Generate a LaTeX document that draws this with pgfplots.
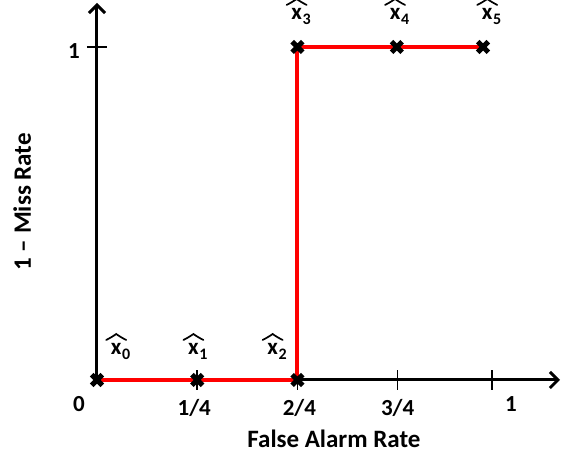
\documentclass[border=0pt]{standalone}
\usepackage{fontspec}
\setmainfont{Carlito}
\usepackage{pgfplots}
\pgfplotsset{compat=1.18}
\usetikzlibrary{arrows.meta}
\newcommand\xh[1]{\tikz[baseline=0pt]{\path[use as bounding box] (-11pt,0pt) rectangle (6pt,12pt);
  \node[inner sep=0pt, anchor=base, font=\fontsize{23pt}{26pt}\selectfont\bfseries] at (0,0) {x};
  \draw[line width=1.7pt, line join=miter, line cap=round] (-10pt,15pt) .. controls (-6pt,17pt) and (-2pt,19.5pt) .. (0pt,21pt) .. controls (2pt,19.5pt) and (6pt,17pt) .. (10pt,15pt);}\raisebox{-5pt}{\fontsize{16pt}{16pt}\selectfont\bfseries #1}}
\tikzset{lab/.style={font=\fontsize{23pt}{26pt}\selectfont\bfseries, inner sep=0pt},
  big/.style={font=\fontsize{25pt}{28pt}\selectfont\bfseries, inner sep=0pt}}
\begin{document}
\begin{tikzpicture}
\begin{axis}[
 scale only axis, width=463pt, height=377pt,
 xmin=0, xmax=1.155, ymin=0, ymax=1.132,
 axis lines=left,
 axis line style={line width=3pt, -{Straight Barb[length=8pt,width=16pt]}},
 every outer x axis line/.append style={line width=3pt, -{Straight Barb[length=8pt,width=16pt]}},
 every outer y axis line/.append style={line width=3pt, -{Straight Barb[length=8pt,width=16pt]}},
 every inner x axis line/.append style={line width=3pt, -{Straight Barb[length=8pt,width=16pt]}},
 every inner y axis line/.append style={line width=3pt, -{Straight Barb[length=8pt,width=16pt]}},
 xtick={0.25,0.5,0.75,0.985}, xticklabels={},
 ytick={1}, yticklabels={},
 major tick length=20pt, tick align=center,
 tick style={line width=1.5pt, black},
 clip=false,
]
\addplot[red, line width=4pt, no marks] coordinates {(0,0) (0.5,0) (0.5,1) (0.963,1)};
\addplot[only marks, mark=x, mark size=7.5pt, mark options={line width=5pt, black}] coordinates {(0,0) (0.25,0) (0.5,0) (0.5,1) (0.748,1) (0.963,1)};
\coordinate (O) at (axis cs:0,0);
% tick labels
\node[lab, anchor=base] at (axis cs:0,0) [xshift=-18pt, yshift=-32pt] {0};
\node[lab, anchor=base] at (axis cs:0.25,0) [xshift=-3pt, yshift=-36pt] {1/4};
\node[lab, anchor=base] at (axis cs:0.5,0) [xshift=2pt, yshift=-36pt] {2/4};
\node[lab, anchor=base] at (axis cs:0.75,0) [xshift=0pt, yshift=-36pt] {3/4};
\node[lab, anchor=base] at (axis cs:0.985,0) [xshift=19pt, yshift=-32pt] {1};
\node[lab, anchor=base] at (axis cs:0,1) [xshift=-23pt, yshift=-12pt] {1};
% axis labels
\node[big, anchor=base] at (axis cs:0.591,0) [yshift=-68pt] {False Alarm Rate};
\node[big, anchor=base, rotate=90] at ([xshift=-66pt]axis cs:0,0.535) {1 – Miss Rate};
% point labels
\node[lab, anchor=base west] at ([xshift=8pt, yshift=25pt]axis cs:0,0) {\xh{0}};
\node[lab, anchor=base west] at ([xshift=-15pt, yshift=25pt]axis cs:0.25,0) {\xh{1}};
\node[lab, anchor=base west] at ([xshift=-36pt, yshift=25pt]axis cs:0.5,0) {\xh{2}};
\node[lab, anchor=base west] at ([xshift=-12pt, yshift=27pt]axis cs:0.5,1) {\xh{3}};
\node[lab, anchor=base west] at ([xshift=-13pt, yshift=27pt]axis cs:0.748,1) {\xh{4}};
\node[lab, anchor=base west] at ([xshift=-7pt, yshift=27pt]axis cs:0.963,1) {\xh{5}};
\end{axis}
\pgfresetboundingbox
\path[use as bounding box] (O) ++(-97pt,-80pt) rectangle ++(563pt,460pt);
\end{tikzpicture}
\end{document}
